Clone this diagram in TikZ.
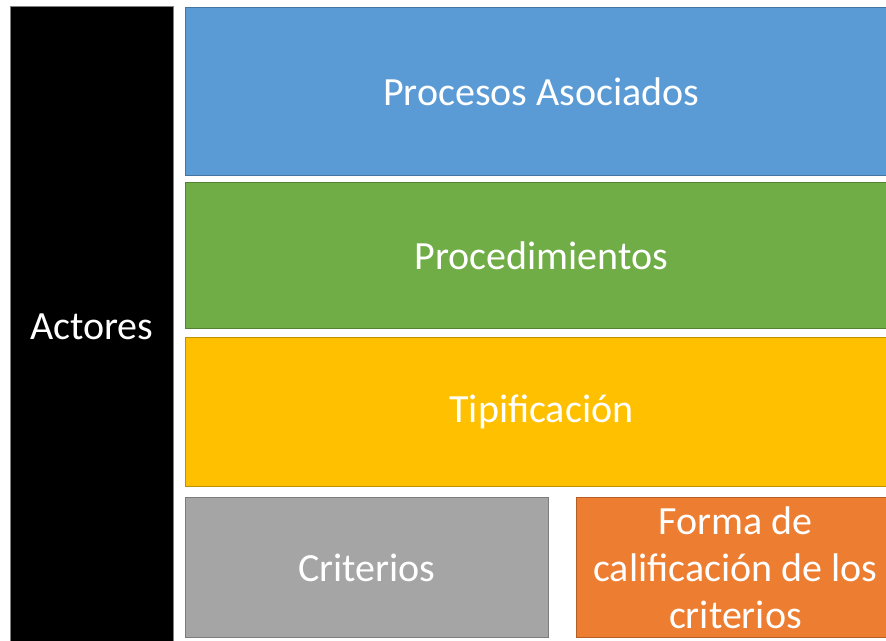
\documentclass[tikz,border=0pt]{standalone}
\usepackage{fontspec}
\setmainfont{Carlito}
\usepackage{xcolor}
\usepackage{tikz}
\usetikzlibrary{positioning}
\definecolor{azul}{HTML}{5B9BD5}
\definecolor{verde}{HTML}{70AD47}
\definecolor{amarillo}{HTML}{FFC000}
\definecolor{gris}{HTML}{A5A5A5}
\definecolor{naranja}{HTML}{ED7D31}

\begin{document}
\begin{tikzpicture}[x=1pt,y=-1pt,
    bloque/.style={draw=#1!75!black, fill=#1, line width=0.8pt, text=white,
        font=\fontsize{40}{47}\selectfont, align=center, inner sep=0pt, anchor=north west}]
    \useasboundingbox (0,0) rectangle (886,640);
    \node[bloque=black, draw=gray, minimum width=163, minimum height=640] (actores) at (10,6) {Actores};
    \node[bloque=azul, minimum width=712, minimum height=168] (procesos) at (185,7) {Procesos Asociados};
    \node[bloque=verde, minimum width=712, minimum height=146] (procedimientos) at (185,182) {Procedimientos};
    \node[bloque=amarillo, minimum width=712, minimum height=149] (tipificacion) at (185,337) {Tipificación};
    \node[bloque=gris, minimum width=363, minimum height=140] (criterios) at (185,497) {Criterios};
    \node[bloque=naranja, minimum width=318, minimum height=140] (forma) at (576,497) {Forma de\\calificación de los\\criterios};
\end{tikzpicture}
\end{document}
